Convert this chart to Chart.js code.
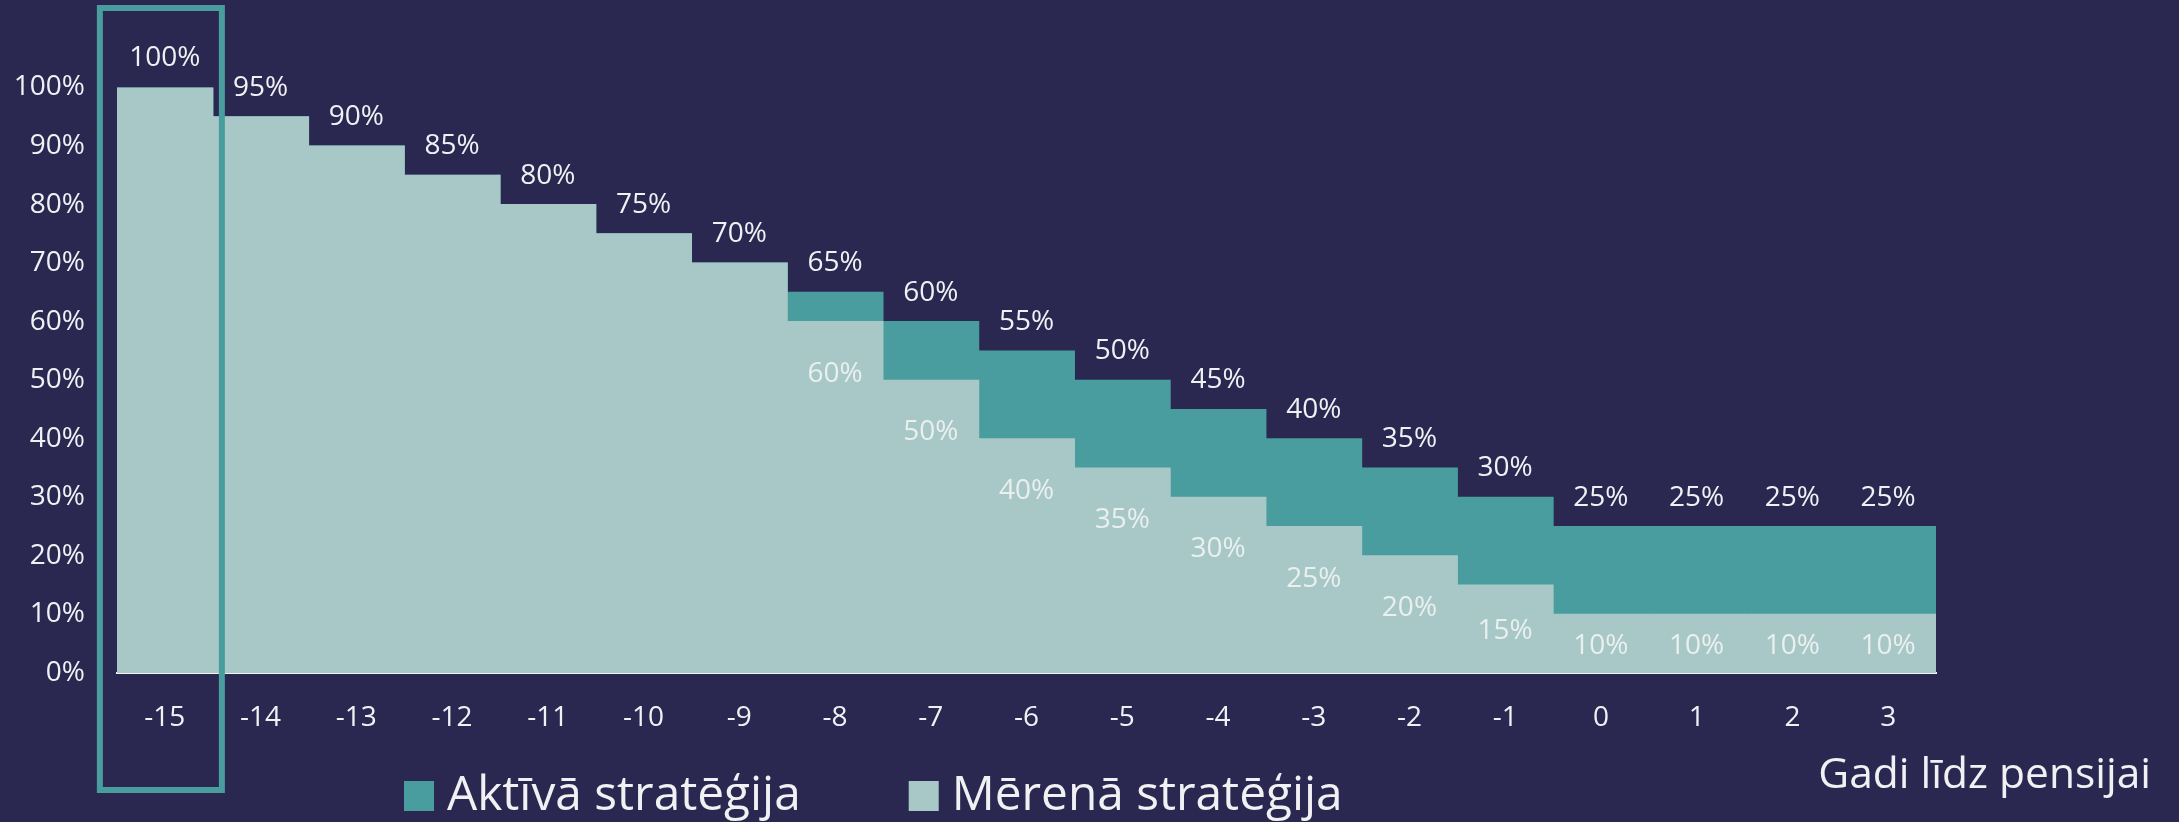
<!DOCTYPE html>
<html>
<head>
<meta charset="utf-8">
<script src="https://cdn.jsdelivr.net/npm/chart.js@4.4.1/dist/chart.umd.min.js"></script>
<style>
  html, body { margin: 0; padding: 0; background: #2a2851; }
  #wrap { width: 2179px; height: 822px; position: relative; }
</style>
</head>
<body>
<div id="wrap"><canvas id="glidePath"></canvas></div>
<script>
// years until retirement
const years = ['-15', '-14', '-13', '-12', '-11', '-10', '-9', '-8', '-7', '-6', '-5', '-4', '-3', '-2', '-1', '0', '1', '2', '3'];
// share of equities, %
const activeShare   = [100, 95, 90, 85, 80, 75, 70, 65, 60, 55, 50, 45, 40, 35, 30, 25, 25, 25, 25];
const moderateShare = [100, 95, 90, 85, 80, 75, 70, 60, 50, 40, 35, 30, 25, 20, 15, 10, 10, 10, 10];
const seriesNames = ['Aktīvā stratēģija', 'Mērenā stratēģija'];
const yTickValues = [0, 10, 20, 30, 40, 50, 60, 70, 80, 90, 100];
const xAxisTitle = 'Gadi līdz pensijai';

const BG = '#2a2851';
const TEAL = '#499d9e';
const LIGHT = '#a8c8c7';
const TEXT = '#f1f1f4';
const FONT = '"Open Sans", "DejaVu Sans", sans-serif';

const overlay = {
  id: 'overlay',
  afterDatasetsDraw(chart) {
    const ctx = chart.ctx;
    const act = chart.getDatasetMeta(0);
    const mod = chart.getDatasetMeta(1);
    ctx.save();
    ctx.font = '28px ' + FONT;
    ctx.textAlign = 'center';
    ctx.textBaseline = 'middle';
    act.data.forEach((bar, i) => {
      ctx.fillStyle = TEXT;
      ctx.fillText(activeShare[i] + '%', bar.x, bar.y - 29);
      if (moderateShare[i] !== activeShare[i]) {
        const b = mod.data[i];
        const h = b.base - b.y;
        ctx.fillStyle = '#e9f0ef';
        ctx.fillText(moderateShare[i] + '%', b.x, b.y + Math.min(52, h / 2 + 2));
      }
    });
    ctx.restore();
  },
  afterDraw(chart) {
    const ctx = chart.ctx;
    const x = chart.scales.x;
    ctx.save();

    // highlight frame around the first year
    const cx = x.getPixelForValue(0);
    ctx.strokeStyle = TEAL;
    ctx.lineWidth = 6;
    ctx.strokeRect(cx - 65, 8, 122, 782);

    // legend
    ctx.font = '47.8px ' + FONT;
    ctx.textBaseline = 'alphabetic';
    ctx.textAlign = 'left';
    const colors = [TEAL, LIGHT];
    let lx = 404;
    seriesNames.forEach((name, i) => {
      ctx.fillStyle = colors[i];
      ctx.fillRect(lx, 781, 30, 30);
      ctx.fillStyle = TEXT;
      ctx.fillText(name, lx + 43, 810);
      lx += 43 + ctx.measureText(name).width + 108;
    });

    // x axis title
    ctx.font = '42.5px ' + FONT;
    ctx.textAlign = 'right';
    ctx.fillText(xAxisTitle, chart.width - 28, 788);
    ctx.restore();
  }
};

new Chart(document.getElementById('glidePath'), {
  type: 'bar',
  data: {
    labels: years,
    datasets: [
      { label: seriesNames[0], data: activeShare, backgroundColor: TEAL, order: 2 },
      { label: seriesNames[1], data: moderateShare, backgroundColor: LIGHT, order: 1 }
    ]
  },
  options: {
    responsive: true,
    maintainAspectRatio: false,
    animation: false,
    layout: { padding: { left: 0, right: 243, top: 87.5, bottom: 89 } },
    datasets: { bar: { grouped: false, barPercentage: 1, categoryPercentage: 1, borderWidth: 0, inflateAmount: 0.6 } },
    plugins: { legend: { display: false }, tooltip: { enabled: false } },
    scales: {
      x: {
        grid: { display: false, drawTicks: false },
        border: { display: true, color: '#f2f2ee', width: 2 },
        ticks: { color: TEXT, font: { size: 28, family: FONT }, padding: 28, maxRotation: 0, autoSkip: false },
        afterFit(s) { s.height = 60; }
      },
      y: {
        min: 0, max: 100,
        grid: { display: false, drawTicks: false },
        border: { display: false },
        ticks: { color: TEXT, font: { size: 28, family: FONT }, padding: 32, callback: v => v + '%' },
        afterBuildTicks(s) { s.ticks = yTickValues.map(v => ({ value: v })); },
        afterFit(s) { s.width = 117; }
      }
    }
  },
  plugins: [overlay]
});
</script>
</body>
</html>
